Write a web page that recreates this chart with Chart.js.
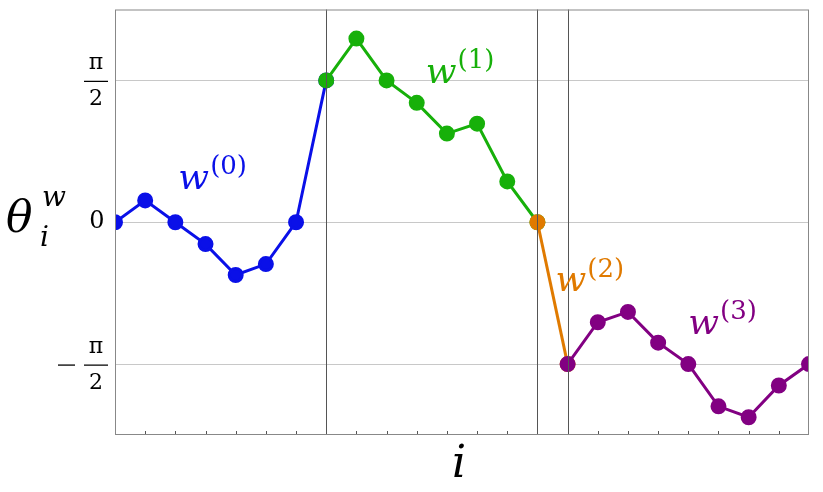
<!DOCTYPE html>
<html><head><meta charset="utf-8">
<script src="https://cdn.jsdelivr.net/npm/chart.js@4"></script>
<style>html,body{margin:0;padding:0;background:#fff}#w{width:823px;height:492px}</style>
</head><body><div id="w"><canvas id="c"></canvas></div>
<script>
// values in units of pi/2
const indices = Array.from({length:24},(_,i)=>i);
const w0 = [0,0.154,0,-0.154,-0.372,-0.295,0,1];
const w1 = [1,1.295,1,0.842,0.625,0.695,0.288,0];
const w2 = [0,-1];
const w3 = [-1,-0.705,-0.632,-0.849,-1,-1.298,-1.375,-1.151,-1];
const yTicks = [-1,0,1];
const splitLines = [7,14,15];
const seriesStart = [0,7,14,15];
const colors = ['#0a10e8','#17b00a','#e07a00','#820082'];
const labelsW = ['(0)','(1)','(2)','(3)'];
const labelAt = [[2.1,0.3],[10.3,1.05],[14.6,-0.42],[19,-0.72]];

function pts(arr,s){return arr.map((v,k)=>({x:s+k,y:v}));}
const datasets=[w0,w1,w2,w3].map((a,k)=>({data:pts(a,seriesStart[k]),order:3-k,borderColor:colors[k],backgroundColor:colors[k],borderWidth:3,pointRadius:6.5,pointHoverRadius:6.5,tension:0}));

const deco={id:'deco',afterDraw(ch){
 const c=ch.ctx,xs=ch.scales.x,ys=ch.scales.y,a=ch.chartArea;
 c.save();
 c.strokeStyle='#555';c.lineWidth=1;
 splitLines.forEach(i=>{const x=Math.round(xs.getPixelForValue(i))+0.5;c.beginPath();c.moveTo(x,a.top);c.lineTo(x,a.bottom);c.stroke();});
 for(let i=1;i<23;i++){const x=Math.round(xs.getPixelForValue(i))+0.5;c.beginPath();c.moveTo(x,a.bottom);c.lineTo(x,a.bottom-4);c.stroke();}
 c.strokeStyle='#888';c.strokeRect(a.left+0.5,a.top+0.5,a.right-a.left-1,a.bottom-a.top-1);
 c.fillStyle='#000';c.textAlign='center';c.textBaseline='middle';
 c.font='24px "DejaVu Serif"';
 const yp=ys.getPixelForValue(1),ym=ys.getPixelForValue(-1),y0=ys.getPixelForValue(0);
 c.fillText('0',97,y0);
 c.font='22px "DejaVu Serif"';
 c.fillText('π',96,yp-17);c.fillText('2',96,yp+19);
 c.fillText('π',96,ym-17);c.fillText('2',96,ym+19);
 c.lineWidth=1.3;c.strokeStyle='#000';
 c.beginPath();c.moveTo(84,yp+1);c.lineTo(108,yp+1);c.moveTo(84,ym+1);c.lineTo(108,ym+1);c.stroke();
 c.beginPath();c.moveTo(58,ym+1);c.lineTo(75,ym+1);c.stroke();
 c.font='italic 44px "DejaVu Serif"';c.textAlign='left';
 c.fillText('θ',6,y0-2);
 c.font='italic 28px "DejaVu Serif"';
 c.fillText('w',42,y0-24);c.fillText('i',40,y0+16);
 c.font='italic 44px "DejaVu Serif"';c.textAlign='center';
 c.fillText('i',xs.getPixelForValue(11.4),466);
 labelAt.forEach((p,k)=>{const x=xs.getPixelForValue(p[0]),y=ys.getPixelForValue(p[1]);
  c.fillStyle=colors[k];c.textAlign='left';c.font='italic 36px "DejaVu Serif"';
  c.fillText('w',x,y);const wd=c.measureText('w').width;
  c.font='26px "DejaVu Serif"';c.fillText(labelsW[k],x+wd+1,y-12);});
 c.restore();}};

new Chart(document.getElementById('c'),{type:'line',data:{labels:indices,datasets},
options:{responsive:true,maintainAspectRatio:false,animation:false,
 layout:{padding:{left:115,right:14,top:0,bottom:49}},
 plugins:{legend:{display:false},tooltip:{enabled:false}},
 scales:{
  x:{type:'linear',min:0,max:23,ticks:{display:false},grid:{display:false},border:{display:false}},
  y:{min:-1.5,max:1.5,afterBuildTicks:s=>{s.ticks=yTicks.map(v=>({value:v}));},ticks:{display:false},
     grid:{color:'#c8c8c8',drawTicks:false},border:{display:false}}
 }},plugins:[deco]});
</script></body></html>
